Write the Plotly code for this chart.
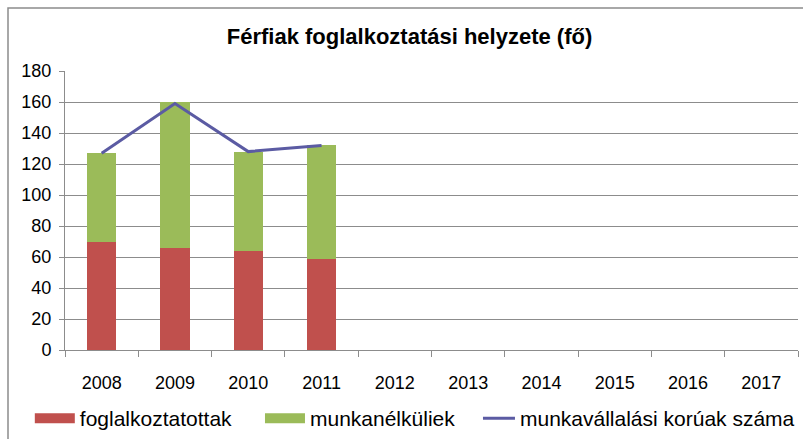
import plotly.graph_objects as go

years = ["2008", "2009", "2010", "2011", "2012", "2013", "2014", "2015", "2016", "2017"]
foglalkoztatottak = [70, 66, 64, 59, None, None, None, None, None, None]
munkanelkuliek = [57, 94, 64, 73, None, None, None, None, None, None]
korúak = [127, 159, 128, 132, None, None, None, None, None, None]

FONT = "Liberation Sans Narrow, Liberation Sans, Arial, sans-serif"
RED = "#C0504D"
GREEN = "#9BBB59"
PURPLE = "#5B5BA3"
GRID = "#8C8C8C"

fig = go.Figure()
fig.add_trace(go.Bar(x=years, y=foglalkoztatottak, name="foglalkoztatottak",
                     marker=dict(color=RED, line=dict(width=0)), showlegend=False))
fig.add_trace(go.Bar(x=years, y=munkanelkuliek, name="munkanélküliek",
                     marker=dict(color=GREEN, line=dict(width=0)), showlegend=False))
# legend swatches (wide rectangles like the reference)
fig.add_trace(go.Scatter(x=[None], y=[None], name="foglalkoztatottak", mode="lines",
                         line=dict(color=RED, width=12), legend="legend"))
fig.add_trace(go.Scatter(x=[None], y=[None], name="munkanélküliek", mode="lines",
                         line=dict(color=GREEN, width=12), legend="legend2"))
fig.add_trace(go.Scatter(x=years, y=korúak, name="munkavállalási korúak száma",
                         mode="lines", line=dict(color=PURPLE, width=3),
                         connectgaps=False, legend="legend3"))

leg_common = dict(orientation="h", xanchor="left", y=-0.172, yanchor="top",
                  font=dict(size=21), bgcolor="rgba(0,0,0,0)")

fig.update_layout(
    width=803, height=439,
    barmode="stack", bargap=0.6,
    paper_bgcolor="white", plot_bgcolor="white",
    margin=dict(l=65, r=5, t=71, b=89, autoexpand=False),
    font=dict(family=FONT, size=18, color="#000000"),
    title=dict(text="<b>Férfiak foglalkoztatási helyzete (fő)</b>", x=0.51, xanchor="center",
               y=0.917, yanchor="middle", font=dict(size=22, family=FONT)),
    legend=dict(x=-0.048, itemwidth=40, **leg_common),
    legend2=dict(x=0.266, itemwidth=40, **leg_common),
    legend3=dict(x=0.5634, itemwidth=32, **leg_common),
    showlegend=True,
)
fig.update_yaxes(range=[0, 180], dtick=20, showgrid=True, gridcolor=GRID, gridwidth=1,
                 showline=True, linecolor=GRID, ticks="outside", ticklen=5,
                 tickcolor=GRID, zeroline=False, ticklabelstandoff=4)
fig.update_xaxes(showline=True, linecolor=GRID, ticks="outside", ticklen=6,
                 tickcolor=GRID, tickson="boundaries", ticklabelstandoff=16,
                 showgrid=False, mirror=False)

fig.add_shape(type="rect", xref="paper", yref="paper",
              x0=-57/733, x1=1 + 20/733, y0=-120/279, y1=1 + 63/279,
              line=dict(color="#8C8C8C", width=1.5), fillcolor="rgba(0,0,0,0)")

fig.write_html("out.html", config={"displayModeBar": False},
               post_script="document.body.style.margin='0';")
